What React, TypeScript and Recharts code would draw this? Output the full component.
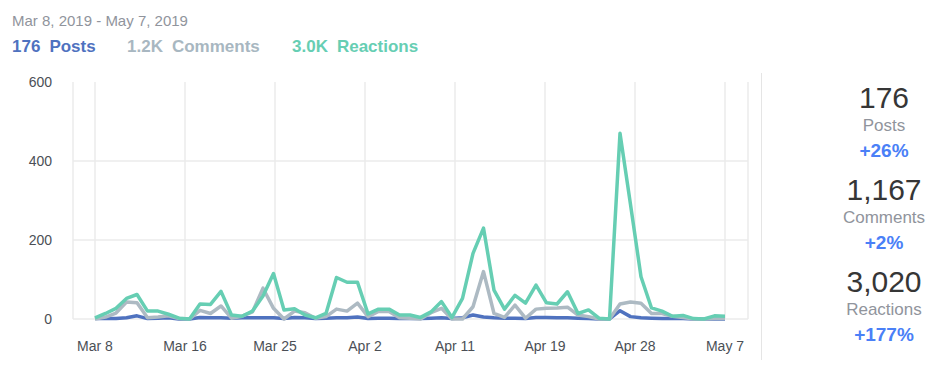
import React from 'react';
import { LineChart, Line, XAxis, YAxis, CartesianGrid } from 'recharts';

const posts = [1,1,1,3,8,1,2,3,0,0, 4,3,3,2,3,3,3,3,1,4, 3,1,2,3,3,5,1,2,2,1, 1,1,2,3,1,3,10,5,3,2, 2,1,4,4,3,3,2,1,0,0, 21,6,3,2,1,1,1,0,0,0,0];
const comments = [0,5,15,43,41,3,5,8,1,0, 22,14,33,2,7,18,78,27,0,20, 16,2,6,25,20,40,6,19,19,3, 2,0,16,27,0,0,31,120,14,4, 35,2,25,27,28,30,10,6,0,0, 38,43,40,14,14,7,4,0,0,1,1];
const reactions = [3,14,27,52,62,20,20,12,2,0, 38,37,70,10,7,20,58,115,23,26, 10,3,14,105,93,93,13,25,25,10, 10,4,18,44,4,52,166,230,73,25, 60,40,86,41,38,69,14,23,2,0, 470,290,107,28,20,7,9,1,0,8,7];

const tickLabels = ['Mar 8', 'Mar 16', 'Mar 25', 'Apr 2', 'Apr 11', 'Apr 19', 'Apr 28', 'May 7'];
const yTicks = [0, 200, 400, 600];
const gridValues = [0, 200, 400];

const summary = [
  { short: '176', label: 'Posts', total: '176', change: '+26%', color: '#4f72bf' },
  { short: '1.2K', label: 'Comments', total: '1,167', change: '+2%', color: '#a8b7c1' },
  { short: '3.0K', label: 'Reactions', total: '3,020', change: '+177%', color: '#66ceb3' },
];

const lastDay = posts.length - 1;
const data = posts.map((p, i) => ({ i, posts: p, comments: comments[i], reactions: reactions[i] }));
const xTicks = tickLabels.map((_, k) => (k * lastDay) / (tickLabels.length - 1));

const FONT = '"Liberation Sans", Arial, Helvetica, sans-serif';

export default function App() {
  const headerLefts = [12, 127, 292];
  return (
    <div style={{ position: 'absolute', left: 0, top: 0, width: 947, height: 382, fontFamily: FONT, background: '#fff' }}>
      <div style={{ position: 'absolute', left: 12, top: 13, fontSize: 15, lineHeight: '15px', color: '#90949c', whiteSpace: 'nowrap' }}>
        Mar 8, 2019 - May 7, 2019
      </div>
      {summary.map((s, k) => (
        <div key={s.label} style={{ position: 'absolute', left: headerLefts[k], top: 38, fontSize: 17, lineHeight: '17px', fontWeight: 'bold', color: s.color, whiteSpace: 'nowrap' }}>
          <span style={{ marginRight: 9 }}>{s.short}</span>
          <span>{s.label}</span>
        </div>
      ))}
      <div style={{ position: 'absolute', left: 761, top: 73, width: 1, height: 287, background: '#e5e5e5' }} />
      {summary.map((s, k) => (
        <div key={'r' + s.label} style={{ position: 'absolute', left: 824, width: 120, top: 0, textAlign: 'center', whiteSpace: 'nowrap' }}>
          <div style={{ position: 'absolute', left: 0, width: 120, top: 83 + 92 * k, fontSize: 30, lineHeight: '30px', color: '#363636' }}>{s.total}</div>
          <div style={{ position: 'absolute', left: 0, width: 120, top: 117 + 92 * k, fontSize: 17, lineHeight: '17px', color: '#90949c' }}>{s.label}</div>
          <div style={{ position: 'absolute', left: 0, width: 120, top: 141 + 92 * k, fontSize: 19, lineHeight: '19px', fontWeight: 'bold', color: '#4a80f7' }}>{s.change}</div>
        </div>
      ))}
      <div style={{ position: 'absolute', left: 0, top: 0 }}>
        <LineChart width={760} height={382} data={data} margin={{ top: 82, right: 12, bottom: 23, left: 0 }}>
          <CartesianGrid stroke="#ebebeb" strokeWidth={1.5} horizontalValues={gridValues} />
          <XAxis
            dataKey="i"
            type="number"
            domain={[0, lastDay]}
            ticks={xTicks}
            tickFormatter={(v: number) => tickLabels[Math.round((v * (tickLabels.length - 1)) / lastDay)]}
            padding={{ left: 22, right: 23 }}
            axisLine={false}
            tickLine={false}
            tickSize={0}
            tickMargin={22}
            height={40}
            interval={0}
            tick={{ fill: '#4b4f56', fontSize: 14 }}
          />
          <YAxis
            type="number"
            domain={[0, 600]}
            ticks={yTicks}
            axisLine={false}
            tickLine={false}
            tickSize={0}
            tickMargin={21}
            width={73}
            interval={0}
            tick={{ fill: '#4b4f56', fontSize: 14 }}
          />
          <Line type="linear" dataKey="posts" stroke="#4f72bf" strokeWidth={3.5} dot={false} activeDot={false} isAnimationActive={false} strokeLinejoin="round" />
          <Line type="linear" dataKey="comments" stroke="#adbac3" strokeWidth={3.5} dot={false} activeDot={false} isAnimationActive={false} strokeLinejoin="round" />
          <Line type="linear" dataKey="reactions" stroke="#66ceb3" strokeWidth={3.5} dot={false} activeDot={false} isAnimationActive={false} strokeLinejoin="round" />
        </LineChart>
      </div>
    </div>
  );
}
